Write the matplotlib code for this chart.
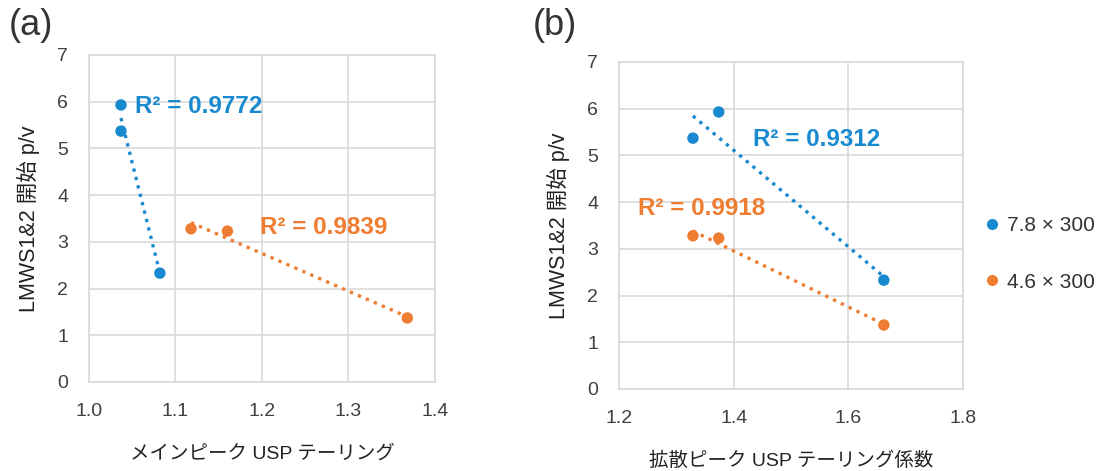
import numpy as np
import matplotlib.pyplot as plt

plt.rcParams['font.family'] = ['Liberation Sans', 'Noto Sans CJK JP', 'DejaVu Sans']

# LMWS1&2 onset p/v for each column
y_78 = [5.93, 5.37, 2.33]
y_46 = [3.28, 3.23, 1.37]

# (a) main peak USP tailing
xa_78 = [1.037, 1.037, 1.082]
xa_46 = [1.118, 1.160, 1.368]
# (b) diffusion peak USP tailing factor
xb_78 = [1.374, 1.329, 1.662]
xb_46 = [1.329, 1.374, 1.662]

r2_a = ['R² = 0.9772', 'R² = 0.9839']
r2_b = ['R² = 0.9312', 'R² = 0.9918']
series_names = ['7.8 × 300', '4.6 × 300']

BLUE = '#1a8ad0'
ORANGE = '#ef7d31'
GRID = '#d9d9d9'
TICK = '#404040'
JP = ['Liberation Sans', 'Noto Sans CJK JP', 'DejaVu Sans']


def trend(ax, x, y, color):
    """ Draw data points and a dotted linear fit over the x range. """
    ax.scatter(x, y, s=68, color=color, zorder=3, edgecolors='none')
    k, b = np.polyfit(x, y, 1)
    xs = np.array([min(x), max(x)])
    ax.plot(xs, k * xs + b, color=color, lw=2.4,
            linestyle=(0, (1, 1.6)), zorder=2)


def style_axes(ax, xlim, xticks, xlabel):
    ax.set_xlim(*xlim)
    ax.set_ylim(0, 7)
    ax.set_xticks(xticks)
    ax.set_yticks(range(8))
    ax.grid(True, color=GRID, lw=1.2)
    ax.set_axisbelow(True)
    for sp in ax.spines.values():
        sp.set_color(GRID)
        sp.set_linewidth(1.2)
    ax.tick_params(length=0, labelsize=14, labelcolor=TICK)
    ax.tick_params(axis='x', pad=15)
    ax.tick_params(axis='y', pad=15)
    ax.set_xlabel(xlabel, fontsize=14, labelpad=18, family=JP,
                  color='#222222')
    ax.set_ylabel('LMWS1&2 開始 p/v', fontsize=15.5, labelpad=12,
                  family=JP, color='#222222')


fig = plt.figure(figsize=(11.01, 4.71), dpi=100)

ax_a = fig.add_axes([0.0808, 0.189, 0.3143, 0.6943])
trend(ax_a, xa_78, y_78, BLUE)
trend(ax_a, xa_46, y_46, ORANGE)
style_axes(ax_a, (1.0, 1.4), [1.0, 1.1, 1.2, 1.3, 1.4], 'メインピーク USP テーリング')
ax_a.set_xticklabels(['1.0', '1.1', '1.2', '1.3', '1.4'])
ax_a.text(1.0535, 5.9, r2_a[0], color=BLUE, fontsize=17.5, fontweight='bold',
          va='center')
ax_a.text(1.198, 3.3, r2_a[1], color=ORANGE, fontsize=17.5, fontweight='bold',
          va='center')

ax_b = fig.add_axes([0.5622, 0.1741, 0.3124, 0.6943])
trend(ax_b, xb_78, y_78, BLUE)
trend(ax_b, xb_46, y_46, ORANGE)
style_axes(ax_b, (1.2, 1.8), [1.2, 1.4, 1.6, 1.8], '拡散ピーク USP テーリング係数')
ax_b.set_xticklabels(['1.2', '1.4', '1.6', '1.8'])
ax_b.text(1.433, 5.35, r2_b[0], color=BLUE, fontsize=17.5, fontweight='bold',
          va='center')
ax_b.text(1.233, 3.86, r2_b[1], color=ORANGE, fontsize=17.5, fontweight='bold',
          va='center')

# legend to the right of panel (b)
handles = [plt.Line2D([], [], ls='none', marker='o', ms=8, color=c,
                      markeredgewidth=0) for c in (BLUE, ORANGE)]
fig.legend(handles, series_names, loc='center left',
           bbox_to_anchor=(0.8937, 0.461), frameon=False, fontsize=15,
           borderaxespad=0, borderpad=0, handletextpad=0.3,
           labelspacing=1.8, handlelength=0.8, labelcolor='#333333')

fig.text(0.008, 0.982, '(a)', fontsize=26, va='top', color='#333333')
fig.text(0.484, 0.982, '(b)', fontsize=26, va='top', color='#333333')

fig.savefig('out.png', dpi=100)
